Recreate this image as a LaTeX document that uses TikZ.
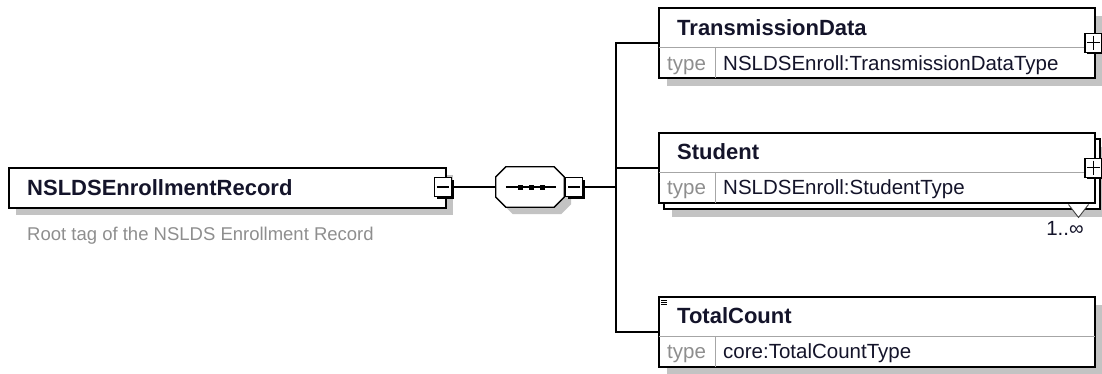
\documentclass[tikz,border=0pt]{standalone}
\usepackage{fontspec}
\setmainfont{Liberation Sans}
\usetikzlibrary{positioning,shadows}

\definecolor{shade}{HTML}{C3C3C3}
\definecolor{rulegray}{HTML}{A6A6A6}
\definecolor{labelgray}{HTML}{8E8E8E}
\definecolor{ink}{HTML}{14142A}

\tikzset{
  elem/.style={draw=black, line width=1.5pt, fill=white, anchor=north west, inner sep=0pt,
    minimum width=436pt, minimum height=70pt},
  shade7/.style={drop shadow={shadow xshift=7pt, shadow yshift=-7pt, fill=shade, opacity=1}},
  shade8/.style={drop shadow={shadow xshift=8pt, shadow yshift=-8pt, fill=shade, opacity=1}},
  title/.style={font=\bfseries\fontsize{22}{26}\selectfont, text=ink, anchor=base west, inner sep=0pt},
  typelbl/.style={font=\fontsize{20.5}{24}\selectfont, text=labelgray, anchor=base west, inner sep=0pt},
  typeval/.style={font=\fontsize{20.5}{24}\selectfont, text=ink, anchor=base west, inner sep=0pt},
  doc/.style={font=\fontsize{18.5}{22}\selectfont, text=labelgray, anchor=base west, inner sep=0pt},
  rule/.style={draw=rulegray, line width=1pt, shorten <=0.75pt, shorten >=0.75pt},
  wire/.style={draw=black, line width=1.5pt},
  tgl/.style={draw=black, line width=1.2pt, fill=white, minimum width=17pt, minimum height=19pt,
    inner sep=0pt, drop shadow={shadow xshift=2pt, shadow yshift=-2pt, fill=black, opacity=1}},
  sign/.style={draw=black, line width=1.2pt}
}

\begin{document}
\begin{tikzpicture}[x=1pt, y=-1pt]
\useasboundingbox (0,0) rectangle (1102,373);

% root element
\node (root) [elem, shade7, minimum width=437pt, minimum height=40pt] at (8,167) {};
\node (rootname) [title] at ([xshift=19pt, yshift=-8pt]root.west) {NSLDSEnrollmentRecord};
\node (rootdoc) [doc] at ([xshift=19pt, yshift=-31.5pt]root.south west) {Root tag of the NSLDS Enrollment Record};
\node (roottgl) [tgl] at (443,187) {};
\draw[sign] ([xshift=3pt]roottgl.west) -- ([xshift=-3pt]roottgl.east);

% sequence
\node (seq) [minimum width=68pt, minimum height=40pt, inner sep=0pt] at (530,187) {};
\draw[draw=black, line width=1.3pt, fill=white, shade7]
  ([xshift=10pt]seq.north west) -- ([xshift=-10pt]seq.north east) -- ([yshift=-10pt]seq.north east)
  -- ([yshift=10pt]seq.south east) -- ([xshift=-10pt]seq.south east) -- ([xshift=10pt]seq.south west)
  -- ([yshift=10pt]seq.south west) -- ([yshift=-10pt]seq.north west) -- cycle;
\draw[wire] ([xshift=10pt]seq.west) -- ([xshift=-8pt]seq.east);
\fill ([xshift=-10pt]seq.center) +(-2.5,-2.5) rectangle +(2.5,2.5);
\fill ([xshift=1pt]seq.center) +(-2.5,-2.5) rectangle +(2.5,2.5);
\fill ([xshift=12pt]seq.center) +(-2.5,-2.5) rectangle +(2.5,2.5);
\node (seqtgl) [tgl, anchor=west] at ([xshift=1pt]seq.east) {};
\draw[sign] ([xshift=3pt]seqtgl.west) -- ([xshift=-3pt]seqtgl.east);
\draw[wire] (roottgl.east) -- (seq.west);
\coordinate (hub) at (616,187);
\draw[wire] (seqtgl.east) -- (hub);

% TransmissionData
\node (td) [elem, shade8] at (658,7) {};
\draw[rule] ([yshift=-40pt]td.north west) -- ([yshift=-40pt]td.north east);
\draw[rule] ([xshift=57pt, yshift=-40pt]td.north west) -- ([xshift=57pt]td.south west);
\node (tdname) [title] at ([xshift=19pt, yshift=-28pt]td.north west) {TransmissionData};
\node (tdlbl) [typelbl] at ([xshift=9pt, yshift=-63pt]td.north west) {type};
\node (tdtype) [typeval] at ([xshift=65pt, yshift=-63pt]td.north west) {NSLDSEnroll:TransmissionDataType};
\node (tdtgl) [tgl] at ([xshift=-2pt]td.east) {};
\draw[sign] ([xshift=3pt]tdtgl.west) -- ([xshift=-3pt]tdtgl.east);
\draw[sign] ([yshift=-3pt]tdtgl.north) -- ([yshift=3pt]tdtgl.south);

% Student (1..unbounded)
\node (stuback) [elem, shade8] at (663,138) {};
\node (stu) [elem] at (658,132) {};
\draw[rule] ([yshift=-40pt]stu.north west) -- ([yshift=-40pt]stu.north east);
\draw[rule] ([xshift=57pt, yshift=-40pt]stu.north west) -- ([xshift=57pt]stu.south west);
\node (stuname) [title] at ([xshift=19pt, yshift=-27.5pt]stu.north west) {Student};
\node (stulbl) [typelbl] at ([xshift=9pt, yshift=-62.5pt]stu.north west) {type};
\node (stutype) [typeval] at ([xshift=65pt, yshift=-62.5pt]stu.north west) {NSLDSEnroll:StudentType};
\node (stutgl) [tgl] at ([xshift=-2pt]stu.east) {};
\draw[sign] ([xshift=3pt]stutgl.west) -- ([xshift=-3pt]stutgl.east);
\draw[sign] ([yshift=-3pt]stutgl.north) -- ([yshift=3pt]stutgl.south);
\draw[draw=black!75, line width=0.9pt, fill=white] ([xshift=-27pt, yshift=-1pt]stu.south east) -- ++(10,13) -- ++(10,-13);
\node (stumult) [typeval, anchor=base] at (1065,235) {1..∞};

% TotalCount
\node (tc) [elem, shade8] at (658,296) {};
\draw[rule] ([yshift=-40pt]tc.north west) -- ([yshift=-40pt]tc.north east);
\draw[rule] ([xshift=57pt, yshift=-40pt]tc.north west) -- ([xshift=57pt]tc.south west);
\node (tcname) [title] at ([xshift=19pt, yshift=-27.5pt]tc.north west) {TotalCount};
\node (tclbl) [typelbl] at ([xshift=9pt, yshift=-62.5pt]tc.north west) {type};
\node (tctype) [typeval] at ([xshift=65pt, yshift=-62.5pt]tc.north west) {core:TotalCountType};
\draw[line width=0.8pt] ([xshift=3pt, yshift=-4pt]tc.north west) -- ++(6,0)
  ([xshift=3pt, yshift=-6pt]tc.north west) -- ++(6,0)
  ([xshift=3pt, yshift=-8pt]tc.north west) -- ++(6,0);

% connectors
\draw[wire] (td.west) -| (hub) |- (tc.west);
\draw[wire] (stu.west -| hub) -- (stu.west);
\end{tikzpicture}
\end{document}
